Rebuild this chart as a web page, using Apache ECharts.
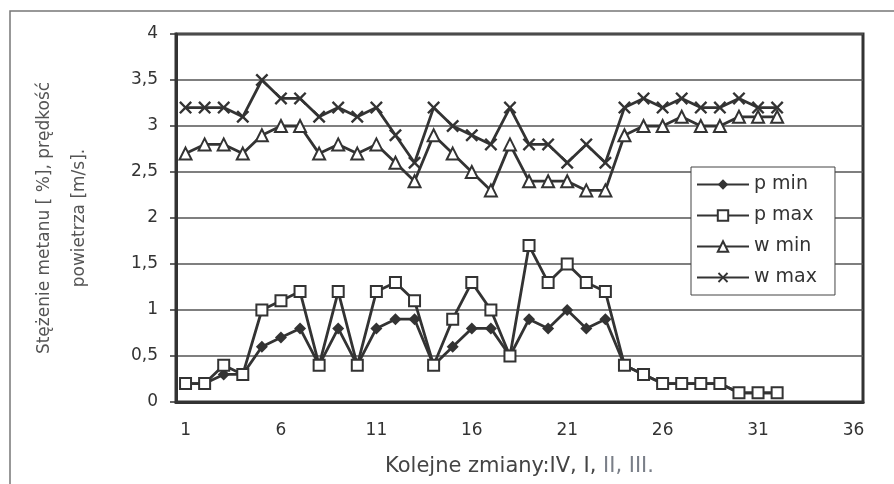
<!DOCTYPE html>
<html><head><meta charset="utf-8">
<script src="https://cdn.jsdelivr.net/npm/echarts@6/dist/echarts.min.js"></script>
<style>html,body{margin:0;padding:0;background:#fff}#c{width:894px;height:484px}</style>
</head><body><div id="c"></div>
<script>
const categories = Array.from({length: 36}, (_, i) => String(i + 1));
const pMin = [0.2,0.2,0.3,0.3,0.6,0.7,0.8,0.4,0.8,0.4,0.8,0.9,0.9,0.4,0.6,0.8,0.8,0.5,0.9,0.8,1.0,0.8,0.9,0.4,0.3,0.2,0.2,0.2,0.2,0.1,0.1,0.1];
const pMax = [0.2,0.2,0.4,0.3,1.0,1.1,1.2,0.4,1.2,0.4,1.2,1.3,1.1,0.4,0.9,1.3,1.0,0.5,1.7,1.3,1.5,1.3,1.2,0.4,0.3,0.2,0.2,0.2,0.2,0.1,0.1,0.1];
const wMin = [2.7,2.8,2.8,2.7,2.9,3.0,3.0,2.7,2.8,2.7,2.8,2.6,2.4,2.9,2.7,2.5,2.3,2.8,2.4,2.4,2.4,2.3,2.3,2.9,3.0,3.0,3.1,3.0,3.0,3.1,3.1,3.1];
const wMax = [3.2,3.2,3.2,3.1,3.5,3.3,3.3,3.1,3.2,3.1,3.2,2.9,2.6,3.2,3.0,2.9,2.8,3.2,2.8,2.8,2.6,2.8,2.6,3.2,3.3,3.2,3.3,3.2,3.2,3.3,3.2,3.2];
const seriesNames = ['p min', 'p max', 'w min', 'w max'];
const yTitle = 'Stężenie metanu [ %], prędkość\npowietrza [m/s].';
const xTitleA = 'Kolejne zmiany:IV, I, ';
const xTitleB = 'II, III.';

const ink = '#333';
const font = 'DejaVu Sans';
const xSym = 'path://M0,1.3 L1.3,0 L5,3.7 L8.7,0 L10,1.3 L6.3,5 L10,8.7 L8.7,10 L5,6.3 L1.3,10 L0,8.7 L3.7,5 Z';

function mk(name, data, symbol, size, fill) {
  return {
    name, type: 'line', data, symbol, symbolSize: size, showAllSymbol: true,
    lineStyle: {color: ink, width: 2.8},
    itemStyle: {color: fill, borderColor: ink, borderWidth: fill === '#fff' ? 2 : 0},
    animation: false
  };
}

const chart = echarts.init(document.getElementById('c'), null, {renderer: 'canvas'});
chart.setOption({
  backgroundColor: '#fff',
  animation: false,
  grid: {left: 176, right: 31, top: 34, bottom: 82, show: true, borderColor: ink, borderWidth: 3, backgroundColor: 'transparent'},
  graphic: [
    {type: 'rect', shape: {x: 10, y: 11, width: 900, height: 500}, style: {fill: 'none', stroke: '#777', lineWidth: 1.5}, z: -1}
  ],
  legend: {
    orient: 'vertical', left: 691, top: 167,
    data: seriesNames,
    itemWidth: 52, itemHeight: 13, itemGap: 12,
    backgroundColor: '#fff', borderColor: '#444', borderWidth: 1,
    padding: [8, 18, 8, 5],
    textStyle: {fontFamily: font, fontSize: 19, color: ink}
  },
  xAxis: {
    type: 'category', data: categories, boundaryGap: true,
    name: '{a|' + xTitleA + '}{b|' + xTitleB + '}', nameLocation: 'middle', nameGap: 54,
    nameTextStyle: {rich: {a: {fontFamily: font, fontSize: 21, color: '#444'}, b: {fontFamily: font, fontSize: 21, color: '#7a7f88'}}},
    axisLine: {lineStyle: {color: ink, width: 3}},
    axisTick: {interval: 4, alignWithLabel: false, length: 6, lineStyle: {color: ink, width: 1.5}},
    axisLabel: {interval: 4, margin: 20, fontFamily: font, fontSize: 17, color: ink}
  },
  yAxis: {
    type: 'value', min: 0, max: 4, interval: 0.5,
    name: yTitle, nameLocation: 'middle', nameGap: 79, nameRotate: 90,
    nameTextStyle: {fontFamily: font, fontSize: 17, color: '#555', lineHeight: 35},
    axisLine: {show: true, lineStyle: {color: ink, width: 3}},
    axisTick: {show: true, length: 6, lineStyle: {color: ink, width: 1.5}},
    axisLabel: {margin: 18, fontFamily: font, fontSize: 17, color: ink, formatter: v => String(v).replace('.', ',')},
    splitLine: {lineStyle: {color: '#555', width: 1.5}}
  },
  series: [
    mk(seriesNames[0], pMin, 'diamond', 12, ink),
    mk(seriesNames[1], pMax, 'rect', 11, '#fff'),
    mk(seriesNames[2], wMin, 'triangle', 12, '#fff'),
    mk(seriesNames[3], wMax, xSym, 13, ink)
  ]
});
</script></body></html>
